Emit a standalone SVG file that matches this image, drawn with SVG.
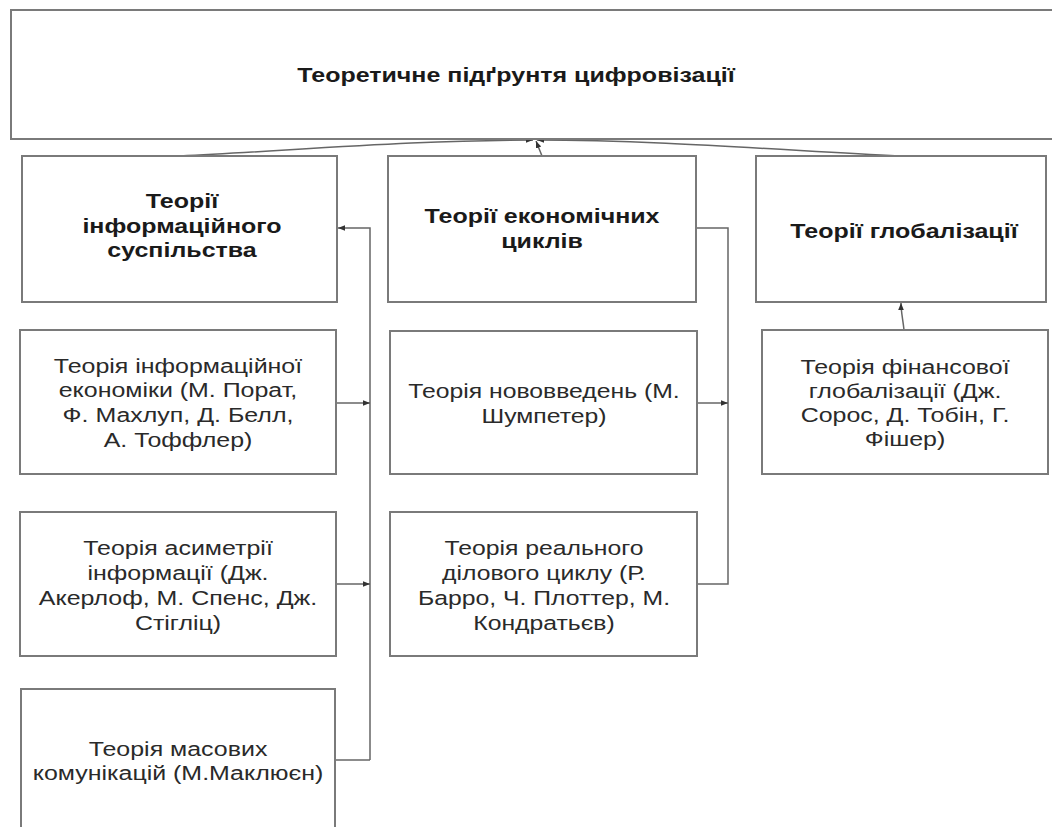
<svg xmlns="http://www.w3.org/2000/svg" width="1052" height="827" viewBox="0 0 1052 827">
<defs>
<style>
.box{fill:#fff;stroke:#7a7a7a;stroke-width:2}
.b{font-family:"Liberation Sans",Arial,sans-serif;font-weight:bold;font-size:20px;fill:#1a1a1a;text-anchor:middle}
.r{font-family:"Liberation Sans",Arial,sans-serif;font-size:19.5px;fill:#2a2a2a;text-anchor:middle}
.ln{fill:none;stroke:#666;stroke-width:1.5}
</style>
<marker id="ah" viewBox="0 0 10 10" refX="10" refY="5" markerWidth="7" markerHeight="7" orient="auto" markerUnits="userSpaceOnUse">
<path d="M0,1 L10,5 L0,9 Z" fill="#333"/>
</marker>
</defs>
<rect width="1052" height="827" fill="#fff"/>

<g id="connectors">
<path class="ln" d="M180,156 C300,150 420,140 533,140" marker-end="url(#ah)"/>
<path class="ln" d="M899,156 C780,150 650,140 537,140" marker-end="url(#ah)"/>
<path class="ln" d="M542,156 L536,141" marker-end="url(#ah)"/>
<path class="ln" d="M370,760 L370,228 L338,228" marker-end="url(#ah)"/>
<path class="ln" d="M336,403 L370,403" marker-end="url(#ah)"/>
<path class="ln" d="M336,584 L370,584" marker-end="url(#ah)"/>
<path class="ln" d="M335,760 L370,760"/>
<path class="ln" d="M696,228 L728,228 L728,584 L697,584"/>
<path class="ln" d="M697,403 L728,403" marker-end="url(#ah)"/>
<path class="ln" d="M904,330 C903,320 901,312 901,303" marker-end="url(#ah)"/>
</g>

<g id="root">
<rect class="box" x="11" y="10" width="1060" height="129"/>
<g transform="translate(516 0) scale(1.25 1)"><text class="b" x="0" y="82">Теоретичне підґрунтя цифровізації</text></g>
</g>

<g id="info-society">
<rect class="box" x="22" y="156" width="315" height="146"/>
<g transform="translate(182 0) scale(1.25 1)">
<text class="b" x="0" y="208">Теорії</text>
<text class="b" x="0" y="233">інформаційного</text>
<text class="b" x="0" y="257">суспільства</text>
</g>
</g>

<g id="econ-cycles">
<rect class="box" x="388" y="156" width="308" height="146"/>
<g transform="translate(542 0) scale(1.25 1)">
<text class="b" x="0" y="223">Теорії економічних</text>
<text class="b" x="0" y="248">циклів</text>
</g>
</g>

<g id="globalization">
<rect class="box" x="756" y="156" width="290" height="146"/>
<g transform="translate(904 0) scale(1.25 1)">
<text class="b" x="0" y="238">Теорії глобалізації</text>
</g>
</g>

<g id="info-economy">
<rect class="box" x="20" y="330" width="316" height="144"/>
<g transform="translate(178 0) scale(1.28 1)">
<text class="r" x="0" y="373">Теорія інформаційної</text>
<text class="r" x="0" y="397">економіки (М. Порат,</text>
<text class="r" x="0" y="422">Ф. Махлуп, Д. Белл,</text>
<text class="r" x="0" y="447">А. Тоффлер)</text>
</g>
</g>

<g id="info-asymmetry">
<rect class="box" x="20" y="512" width="316" height="144"/>
<g transform="translate(178 0) scale(1.28 1)">
<text class="r" x="0" y="555">Теорія асиметрії</text>
<text class="r" x="0" y="580">інформації (Дж.</text>
<text class="r" x="0" y="605">Акерлоф, М. Спенс, Дж.</text>
<text class="r" x="0" y="630">Стігліц)</text>
</g>
</g>

<g id="mass-comm">
<rect class="box" x="21" y="689" width="314" height="150"/>
<g transform="translate(178 0) scale(1.28 1)">
<text class="r" x="0" y="756">Теорія масових</text>
<text class="r" x="0" y="780">комунікацій (М.Маклюєн)</text>
</g>
</g>

<g id="innovations">
<rect class="box" x="390" y="331" width="307" height="143"/>
<g transform="translate(544 0) scale(1.27 1)">
<text class="r" x="0" y="398">Теорія нововведень (М.</text>
<text class="r" x="0" y="423">Шумпетер)</text>
</g>
</g>

<g id="real-business-cycle">
<rect class="box" x="390" y="512" width="307" height="144"/>
<g transform="translate(544 0) scale(1.27 1)">
<text class="r" x="0" y="555">Теорія реального</text>
<text class="r" x="0" y="580">ділового циклу (Р.</text>
<text class="r" x="0" y="605">Барро, Ч. Плоттер, М.</text>
<text class="r" x="0" y="630">Кондратьєв)</text>
</g>
</g>

<g id="financial-globalization">
<rect class="box" x="762" y="330" width="286" height="144"/>
<g transform="translate(905 0) scale(1.28 1)">
<text class="r" x="0" y="374">Теорія фінансової</text>
<text class="r" x="0" y="398">глобалізації (Дж.</text>
<text class="r" x="0" y="422">Сорос, Д. Тобін, Г.</text>
<text class="r" x="0" y="446">Фішер)</text>
</g>
</g>
</svg>
